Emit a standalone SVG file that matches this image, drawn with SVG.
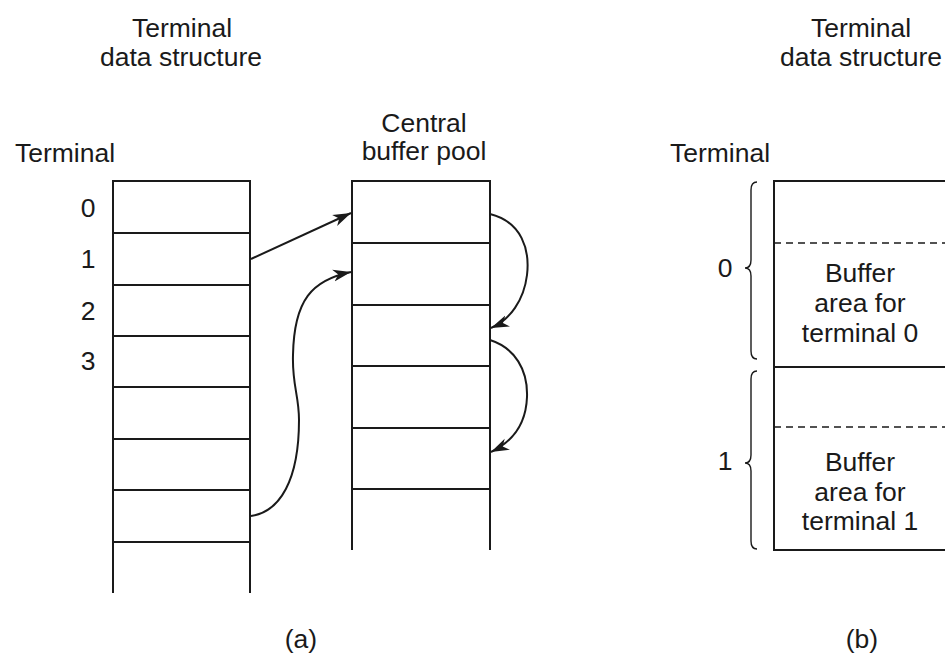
<svg xmlns="http://www.w3.org/2000/svg" width="945" height="660" viewBox="0 0 945 660">
<style>
text{font-family:"Liberation Sans",Arial,sans-serif;font-size:26.5px;fill:#1a1a1a}
.c{text-anchor:middle}
.box{fill:none;stroke:#1a1a1a;stroke-width:2}
.brace{fill:none;stroke:#1a1a1a;stroke-width:1.4}
.dash{stroke:#1a1a1a;stroke-width:1.4;stroke-dasharray:7 5}
.conn{fill:none;stroke:#1a1a1a;stroke-width:2}
</style>
<defs>
<marker id="ah" markerUnits="userSpaceOnUse" markerWidth="20" markerHeight="14" refX="18" refY="7" orient="auto">
<path d="M0,1 L18,7 L0,13 L5,7 Z" fill="#1a1a1a"/>
</marker>
</defs>
<rect width="945" height="660" fill="#fff"/>

<g id="title-a">
<text class="c" x="182" y="37">Terminal</text>
<text class="c" x="181" y="66">data structure</text>
</g>
<g id="title-pool">
<text class="c" x="424" y="132">Central</text>
<text class="c" x="424" y="160">buffer pool</text>
</g>
<g id="title-b">
<text class="c" x="861" y="37">Terminal</text>
<text class="c" x="861" y="66">data structure</text>
</g>

<g id="terminal-table">
<text class="c" x="65" y="162">Terminal</text>
<text class="c" x="88" y="217">0</text>
<text class="c" x="88" y="268">1</text>
<text class="c" x="88" y="320">2</text>
<text class="c" x="88" y="370">3</text>
<path class="box" d="M113,593 V181 H250 V593 M113,233 H250 M113,285 H250 M113,336 H250 M113,387 H250 M113,439 H250 M113,490 H250 M113,542 H250"/>
</g>

<g id="buffer-pool">
<path class="box" d="M352,550 V181 H490 V550 M352,243 H490 M352,305 H490 M352,366 H490 M352,428 H490 M352,489 H490"/>
</g>

<g id="terminal-b">
<text class="c" x="720" y="162">Terminal</text>
<text class="c" x="725" y="277">0</text>
<text class="c" x="725" y="470">1</text>
<path class="brace" d="M757,182 Q751,182 751,190 L751,260 Q751,268 745,268 Q751,268 751,276 L751,351 Q751,359 757,359"/>
<path class="brace" d="M757,371 Q751,371 751,379 L751,455 Q751,463 745,463 Q751,463 751,471 L751,541 Q751,549 757,549"/>
<rect class="box" x="774" y="181" width="180" height="369"/>
<line class="box" x1="774" y1="367" x2="950" y2="367"/>
<line class="dash" x1="774" y1="243" x2="945" y2="243"/>
<line class="dash" x1="774" y1="427" x2="945" y2="427"/>
<text class="c" x="860" y="282">Buffer</text>
<text class="c" x="860" y="312">area for</text>
<text class="c" x="860" y="342">terminal 0</text>
<text class="c" x="860" y="471">Buffer</text>
<text class="c" x="860" y="501">area for</text>
<text class="c" x="860" y="530">terminal 1</text>
</g>

<g id="connectors">
<path class="conn" d="M251,259 L351,213" marker-end="url(#ah)"/>
<path class="conn" d="M251,516 C280,512 299,480 299,420 C299,395 292,385 293,355 C294,300 312,280 351,272" marker-end="url(#ah)"/>
<path class="conn" d="M490,214 C522,222 530,250 527,275 C524,300 510,320 491,328" marker-end="url(#ah)"/>
<path class="conn" d="M490,340 C515,348 528,370 527,397 C526,425 512,442 491,452" marker-end="url(#ah)"/>
</g>

<g id="captions">
<text class="c" x="301" y="648">(a)</text>
<text class="c" x="862" y="648">(b)</text>
</g>
</svg>
